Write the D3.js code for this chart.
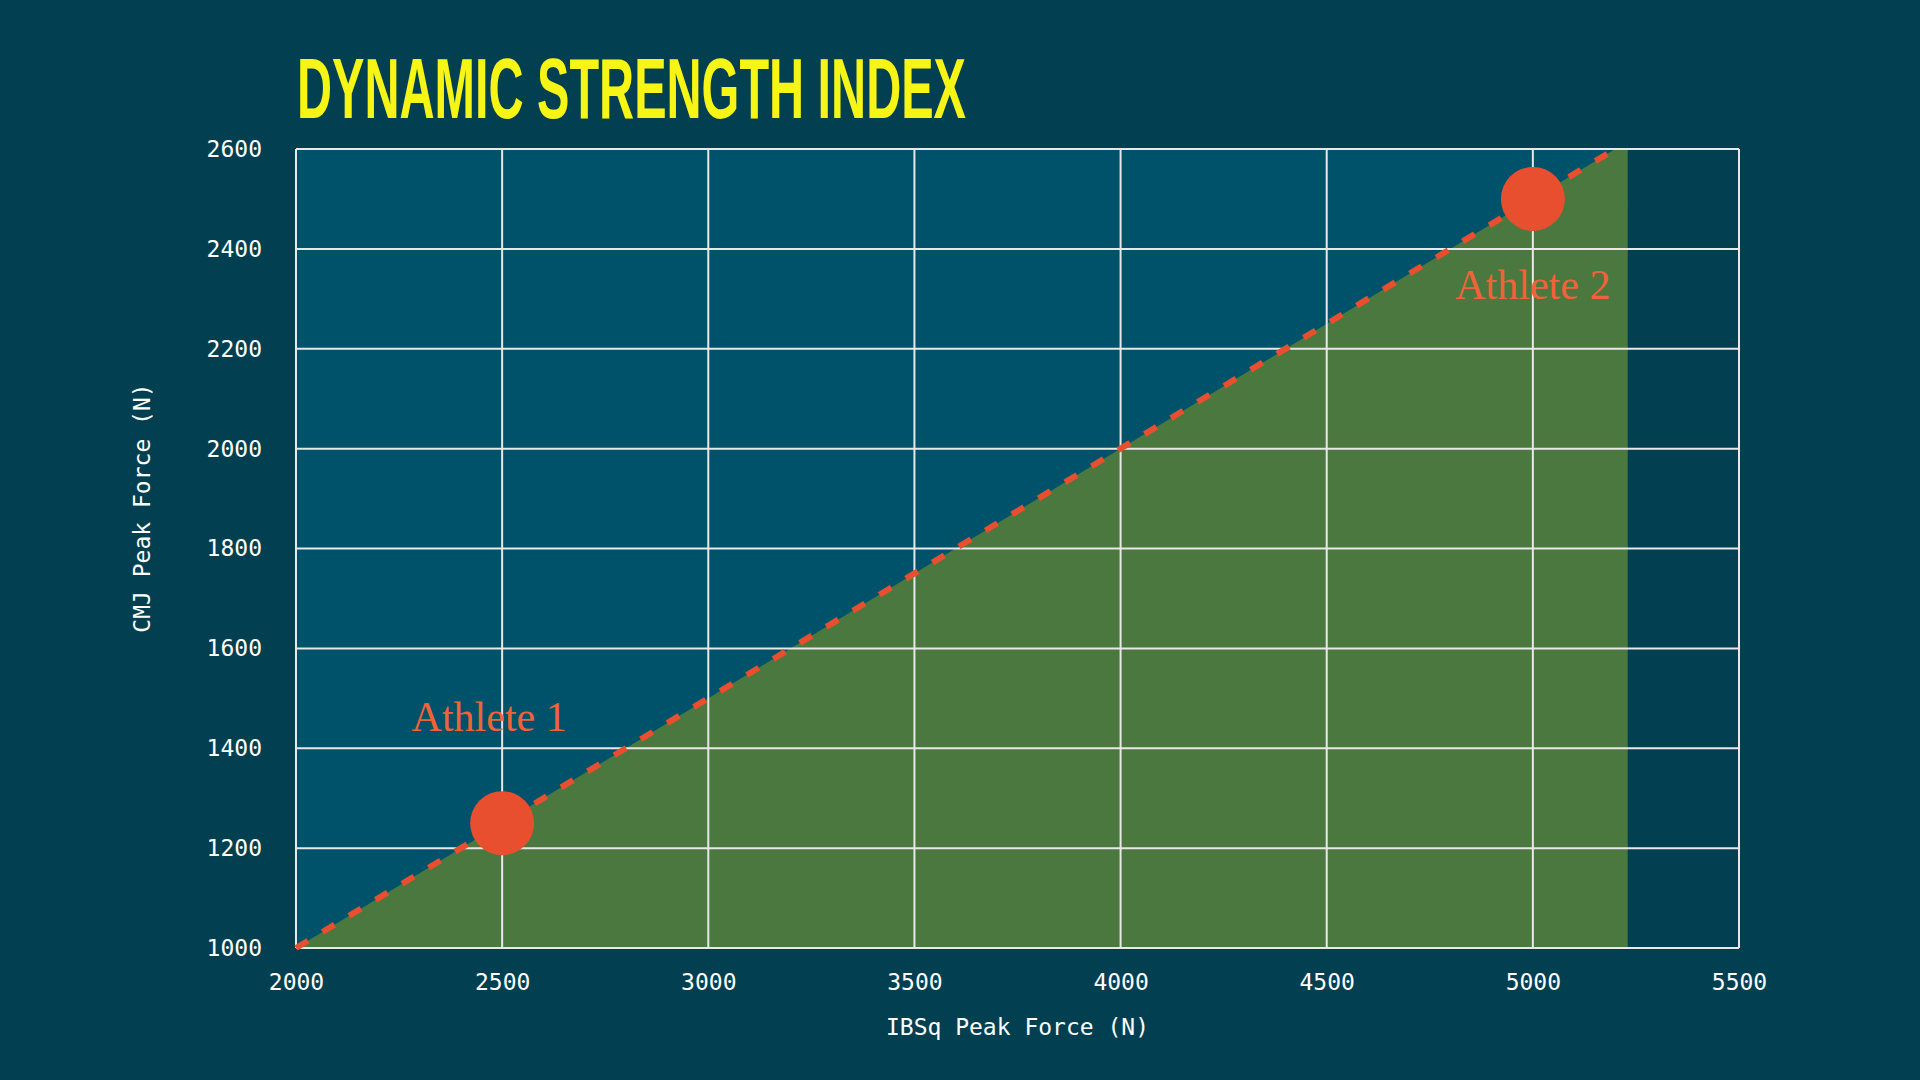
<!DOCTYPE html>
<html>
<head>
<meta charset="utf-8">
<script src="https://cdn.jsdelivr.net/npm/d3@7"></script>
<style>
  html, body { margin: 0; padding: 0; background: #023f51; }
  svg { display: block; }
</style>
</head>
<body>
<div id="chart"></div>
<script>
// chart values
const xTicks = [2000, 2500, 3000, 3500, 4000, 4500, 5000, 5500];
const yTicks = [1000, 1200, 1400, 1600, 1800, 2000, 2200, 2400, 2600];
const athleteNames = ['Athlete 1', 'Athlete 2'];
const athleteIBSq = [2500, 5000];
const athleteCMJ = [1250, 2500];
// DSI reference line (CMJ = 0.5 * IBSq)
const lineX = [2000, 5200];
const lineY = [1000, 2600];
// shaded zone under the line
const zoneX = [2000, 5200, 5230, 5230];
const zoneY = [1000, 2600, 2600, 1000];

const width = 1920, height = 1080;
const margin = {top: 149, right: 181, bottom: 132, left: 296};

const svg = d3.select('#chart').append('svg')
    .attr('width', width)
    .attr('height', height);

svg.append('rect')
    .attr('width', width)
    .attr('height', height)
    .attr('fill', '#023f51');

const x = d3.scaleLinear()
    .domain([2000, 5500])
    .range([margin.left, width - margin.right]);

const y = d3.scaleLinear()
    .domain([1000, 2600])
    .range([height - margin.bottom, margin.top]);

// blue plot background (only up to the end of the zone)
svg.append('rect')
    .attr('x', x(zoneX[0]))
    .attr('y', y(2600))
    .attr('width', x(d3.max(zoneX)) - x(zoneX[0]))
    .attr('height', y(1000) - y(2600))
    .attr('fill', '#00526b');

// green zone
svg.append('path')
    .datum(zoneX.map((d, i) => [d, zoneY[i]]))
    .attr('d', d3.line().x(d => x(d[0])).y(d => y(d[1])).curve(d3.curveLinearClosed))
    .attr('fill', '#4b783e');

// grid
const grid = svg.append('g').attr('stroke', '#e8e8e8').attr('stroke-width', 2);
grid.selectAll('.vline')
    .data(xTicks)
    .enter().append('line')
    .attr('x1', d => x(d)).attr('x2', d => x(d))
    .attr('y1', y(1000)).attr('y2', y(2600));
grid.selectAll('.hline')
    .data(yTicks)
    .enter().append('line')
    .attr('x1', x(2000)).attr('x2', x(5500))
    .attr('y1', d => y(d)).attr('y2', d => y(d));

// axes (labels only)
const xAxis = svg.append('g')
    .attr('transform', `translate(0,${y(1000)})`)
    .call(d3.axisBottom(x).tickValues(xTicks).tickSize(0).tickPadding(26).tickFormat(d3.format('d')));
const yAxis = svg.append('g')
    .attr('transform', `translate(${x(2000)},0)`)
    .call(d3.axisLeft(y).tickValues(yTicks).tickSize(0).tickPadding(34).tickFormat(d3.format('d')));
[xAxis, yAxis].forEach(a => {
    a.select('.domain').remove();
    a.selectAll('text')
        .attr('fill', '#ffffff')
        .style('font-family', '"DejaVu Sans Mono", monospace')
        .style('font-size', '23px');
});

// dashed DSI line
svg.append('path')
    .datum(lineX.map((d, i) => [d, lineY[i]]))
    .attr('d', d3.line().x(d => x(d[0])).y(d => y(d[1])))
    .attr('fill', 'none')
    .attr('stroke', '#e84f2f')
    .attr('stroke-width', 6)
    .attr('stroke-dasharray', '14,17');

// athletes
svg.selectAll('.athlete')
    .data(athleteNames)
    .enter().append('circle')
    .attr('cx', (d, i) => x(athleteIBSq[i]))
    .attr('cy', (d, i) => y(athleteCMJ[i]))
    .attr('r', 32)
    .attr('fill', '#e84f2f');

const labelDx = [-13, 0];
const labelDy = [-92, 100];
svg.selectAll('.athlete-label')
    .data(athleteNames)
    .enter().append('text')
    .attr('x', (d, i) => x(athleteIBSq[i]) + labelDx[i])
    .attr('y', (d, i) => y(athleteCMJ[i]) + labelDy[i])
    .attr('text-anchor', 'middle')
    .attr('fill', '#f2623a')
    .style('font-family', '"Liberation Serif", "DejaVu Serif", serif')
    .style('font-size', '42px')
    .text(d => d);

// title
svg.append('text')
    .attr('x', 297)
    .attr('y', 118)
    .attr('fill', '#f7f515')
    .attr('textLength', 669)
    .attr('lengthAdjust', 'spacingAndGlyphs')
    .style('font-family', '"Liberation Sans Narrow", "Liberation Sans", sans-serif')
    .style('font-weight', 'bold')
    .style('font-size', '85px')
    .text('DYNAMIC STRENGTH INDEX');

// axis titles
svg.append('text')
    .attr('x', (x(2000) + x(5500)) / 2)
    .attr('y', 1035)
    .attr('text-anchor', 'middle')
    .attr('fill', '#ffffff')
    .style('font-family', '"DejaVu Sans Mono", monospace')
    .style('font-size', '23px')
    .text('IBSq Peak Force (N)');

svg.append('text')
    .attr('transform', 'translate(150,508) rotate(-90)')
    .attr('text-anchor', 'middle')
    .attr('fill', '#ffffff')
    .style('font-family', '"DejaVu Sans Mono", monospace')
    .style('font-size', '23px')
    .text('CMJ Peak Force (N)');
</script>
</body>
</html>
